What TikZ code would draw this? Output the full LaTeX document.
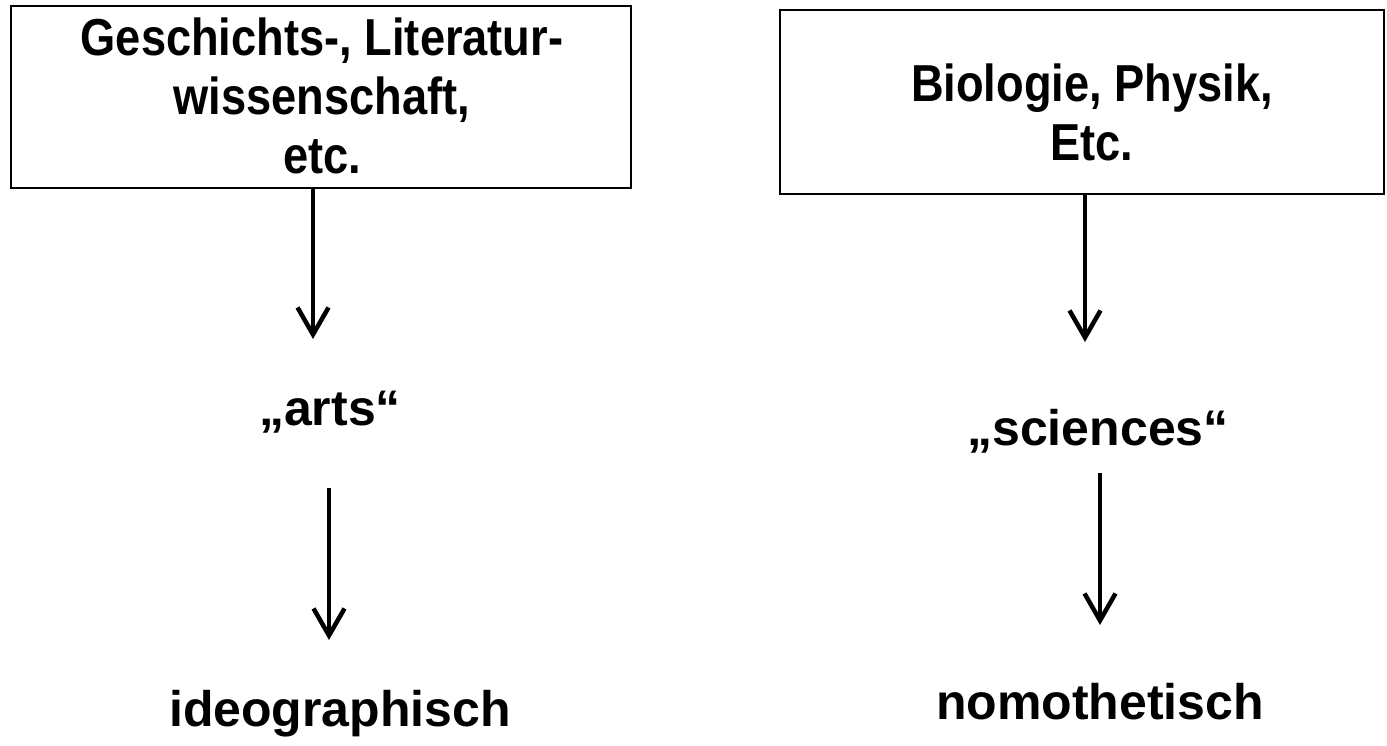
\documentclass[tikz,border=0pt]{standalone}
\usepackage{fontspec}
\setmainfont{Liberation Sans}
\newfontfamily\narrowsans[FakeStretch=0.87]{Liberation Sans}
\usetikzlibrary{arrows.meta}
\begin{document}
\begin{tikzpicture}[x=1pt,y=-1pt,
  boxtext/.style={font=\narrowsans\fontsize{52}{59}\selectfont\bfseries, inner sep=0pt, align=center, anchor=base},
  lbl/.style={font=\fontsize{50}{58}\selectfont\bfseries, inner sep=0pt, anchor=base},
  flow/.style={line width=4.5pt, -{Straight Barb[length=27pt,width=31pt,line width=4.5pt]}},
  boxx/.style={draw, line width=2.7pt, inner sep=0pt}]
\useasboundingbox (0,0) rectangle (1387,745);
% boxes
\node[boxx, minimum width=620pt, minimum height=182pt] (b1) at (321,97) {};
\node[boxx, minimum width=604pt, minimum height=184pt] (b2) at (1082,102) {};
\node[boxtext] (t1) at (322,173) {Geschichts-, Literatur-\\wissenschaft,\\etc.};
\node[boxtext] (t2) at (1092,160) {Biologie, Physik,\\Etc.};
% labels
\node[lbl] (arts) at (330,425) {„arts“};
\node[lbl] (sci) at (1098,445) {„sciences“};
\node[lbl] (ideo) at (340,726) {ideographisch};
\node[lbl] (nomo) at (1100,719) {nomothetisch};
% arrow end points
\coordinate (a1e) at (313,339);
\coordinate (a2s) at (329,488);
\coordinate (a2e) at (329,640);
\coordinate (c1e) at (1085,342);
\coordinate (c2s) at (1100,473);
\coordinate (c2e) at (1100,625);
\draw[flow] (b1.south -| a1e) -- (a1e);
\draw[flow] (a2s) -- (a2e);
\draw[flow] (b2.south -| c1e) -- (c1e);
\draw[flow] (c2s) -- (c2e);
\end{tikzpicture}
\end{document}
